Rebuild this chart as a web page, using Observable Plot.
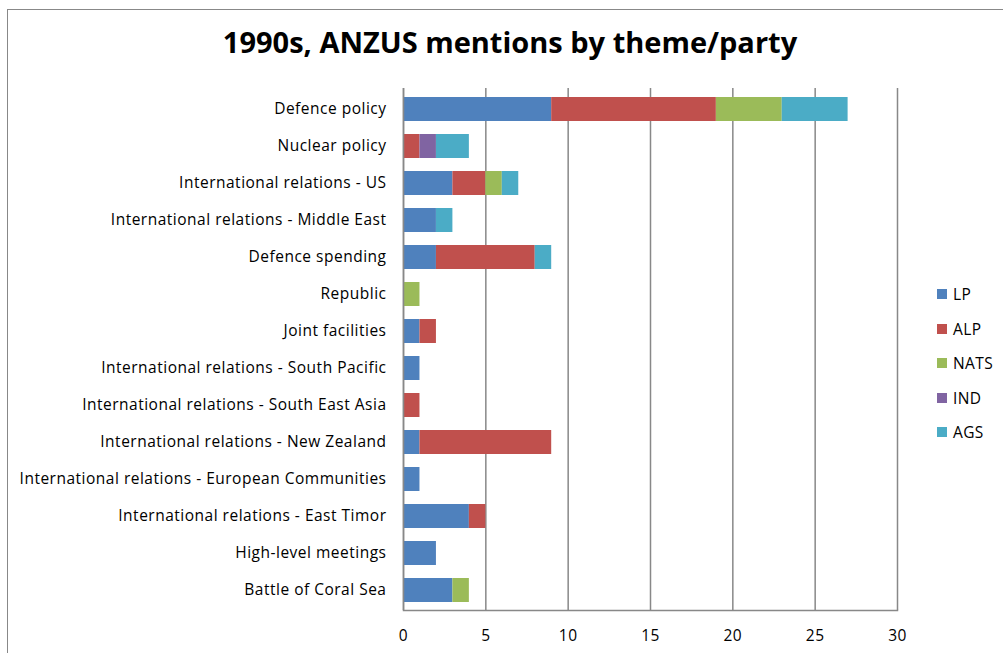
<!DOCTYPE html>
<html><head><meta charset="utf-8">
<script src="https://cdn.jsdelivr.net/npm/d3@7"></script>
<script src="https://cdn.jsdelivr.net/npm/@observablehq/plot@0.6"></script>
<style>
html,body{margin:0;padding:0;background:#fff;overflow:hidden;}
#wrap{position:relative;width:1003px;height:653px;font-family:"Open Sans",Lato,sans-serif;}
#frame{position:absolute;left:7px;top:9px;width:1010px;height:670px;border:1.5px solid #888;box-sizing:border-box;}
#title{position:absolute;left:0;top:22px;width:1020px;text-align:center;font-weight:bold;font-size:29px;color:#000;letter-spacing:0px;}
#chart{position:absolute;left:0;top:0;}
#legend{position:absolute;left:937px;top:283px;font-size:15.5px;letter-spacing:0.4px;}
.li{height:34.5px;display:flex;align-items:flex-start;}
.sw{width:10px;height:10px;margin-top:6px;margin-right:6px;}
svg text{letter-spacing:0.5px;}
</style></head>
<body><div id="wrap"><div id="frame"></div><div id="title">1990s, ANZUS mentions by theme/party</div><div id="chart"></div><div id="legend"></div></div>
<script>
const categories = ["Defence policy","Nuclear policy","International relations - US","International relations - Middle East","Defence spending","Republic","Joint facilities","International relations - South Pacific","International relations - South East Asia","International relations - New Zealand","International relations - European Communities","International relations - East Timor","High-level meetings","Battle of Coral Sea"];
const parties = ["LP","ALP","NATS","IND","AGS"];
const colors = ["#4F81BD","#C0504D","#9BBB59","#8064A2","#4BACC6"];
const LP   = [9,0,3,2,2,0,1,1,0,1,1,4,2,3];
const ALP  = [10,1,2,0,6,0,1,0,1,8,0,1,0,0];
const NATS = [4,0,1,0,0,1,0,0,0,0,0,0,0,1];
const IND  = [0,1,0,0,0,0,0,0,0,0,0,0,0,0];
const AGS  = [4,2,1,1,1,0,0,0,0,0,0,0,0,0];
const xTicks = [0,5,10,15,20,25,30];

const series = [LP,ALP,NATS,IND,AGS];
const data = [];
categories.forEach((c,i)=>parties.forEach((p,j)=>{ if(series[j][i]>0) data.push({category:c,party:p,value:series[j][i]}); }));

const plot = Plot.plot({
  width:1003, height:653,
  marginLeft:403, marginRight:106, marginTop:88, marginBottom:43,
  style:{fontFamily:"'Open Sans', Lato, sans-serif", fontSize:"15.5px", color:"#000", background:"transparent"},
  x:{domain:[0,30], ticks:xTicks, label:null},
  y:{domain:categories, label:null, paddingInner:0.36, paddingOuter:0.18},
  color:{domain:parties, range:colors},
  marks:[
    Plot.gridX(xTicks,{stroke:"#888",strokeOpacity:1,strokeWidth:1.5}),
    Plot.barX(data, Plot.stackX({x:"value", y:"category", fill:"party", order:parties})),
    Plot.axisX({ticks:xTicks, tickSize:0, tickPadding:19, fontSize:15.5, label:null}),
    Plot.axisY({tickSize:0, tickPadding:17, fontSize:15.5, label:null}),
    Plot.ruleX([0],{stroke:"#888",strokeWidth:1.5}),
    Plot.frame({anchor:"bottom", stroke:"#888", strokeWidth:1.5, strokeOpacity:1})
  ]
});
document.getElementById("chart").appendChild(plot);

const lg = document.getElementById("legend");
parties.forEach((p,i)=>{
  const d=document.createElement("div"); d.className="li";
  d.innerHTML=`<div class="sw" style="background:${colors[i]}"></div><span>${p}</span>`;
  lg.appendChild(d);
});
</script></body></html>
